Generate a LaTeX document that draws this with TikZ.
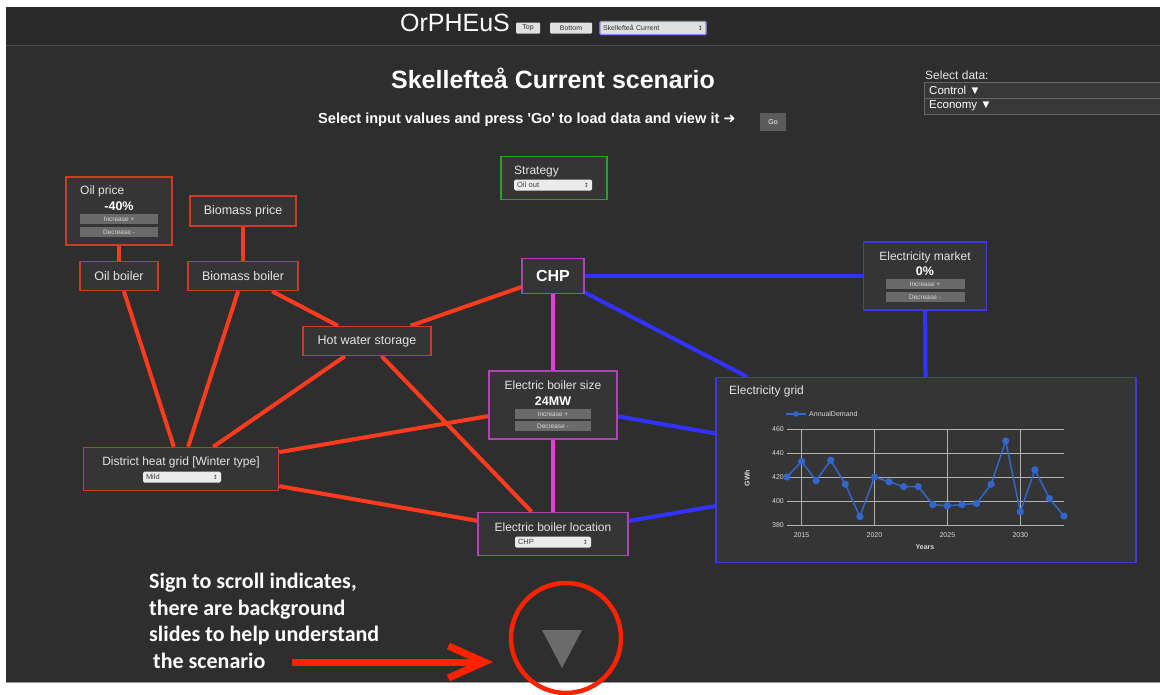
\documentclass[tikz,border=0pt]{standalone}
\usepackage{fontspec}
\setmainfont{Liberation Sans}
\newfontfamily\notefont{Carlito}
\newfontfamily\symbolfont{DejaVu Sans}
\usetikzlibrary{arrows.meta}
\newcommand\pxfont[1]{\fontsize{#1}{#1}\selectfont}
\definecolor{pagebg}{HTML}{2E2E2E}
\definecolor{headbg}{HTML}{2A2A2A}
\definecolor{boxfill}{HTML}{353535}
\definecolor{boxtext}{HTML}{E4E4E4}
\definecolor{heatred}{HTML}{FF3B1E}
\definecolor{heatedge}{HTML}{CF3A25}
\definecolor{chpmag}{HTML}{E53CE5}
\definecolor{chpedge}{HTML}{B044B0}
\definecolor{elblue}{HTML}{3232FF}
\definecolor{eledge}{HTML}{3A3AE0}
\definecolor{stratedge}{HTML}{1FA81F}
\definecolor{btngrey}{HTML}{6A6A6A}
\definecolor{plotblue}{HTML}{3366CC}
\definecolor{gridgrey}{HTML}{B0B0B0}
\definecolor{notered}{HTML}{FF2200}
\definecolor{signgrey}{HTML}{6B6B6B}
\tikzset{heatbox/.style={rectangle,draw=heatedge,fill=boxfill,line width=1.5pt,inner sep=0pt,text=boxtext,font=\pxfont{12.5}},
         chpbox/.style={heatbox,draw=chpedge},
         elbox/.style={heatbox,draw=eledge},
         stratbox/.style={heatbox,draw=stratedge},
         heatline/.style={heatred,line width=4pt},
         chpline/.style={chpmag,line width=4pt},
         elline/.style={elblue,line width=4pt},
         boxlabel/.style={text=boxtext,inner sep=0pt,font=\pxfont{12}},
         boxvalue/.style={text=white,inner sep=0pt,font=\pxfont{12.5}\bfseries},
         pushbtn/.style={rectangle,fill=btngrey,text=white!85!black,inner sep=0pt,minimum width=#1,minimum height=10pt,font=\pxfont{6.5}},
         pushbtn/.default=78pt,
         dropdown/.style={rectangle,rounded corners=1.5pt,fill=white!92!black,text=black!75,inner sep=0pt,inner xsep=3pt,text width=#1,minimum height=11pt,align=left,font=\pxfont{7.5}},
         dropdown/.default=72pt,
         headbtn/.style={rectangle,rounded corners=1pt,fill=white!88!black,text=black!80,inner sep=0pt,minimum height=11pt,font=\pxfont{7}},
         chartgrid/.style={gridgrey,line width=0.9pt},
         ticklabel/.style={text=white!85!black,inner sep=0pt,font=\pxfont{7}},
         notetext/.style={text=white,inner sep=0pt,align=left,font={\notefont\bfseries\fontsize{22}{26.5}\selectfont}}}
\pgfdeclarelayer{background}
\pgfsetlayers{background,main}

\begin{document}
\begin{tikzpicture}[x=1pt,y=-1pt]
\useasboundingbox (0,0) rectangle (1160,694);
\begin{pgfonlayer}{background}
\fill[white] (0,0) rectangle (1160,694);
\fill[pagebg] (6,7) rectangle (1160,682);
\fill[headbg] (6,7) rectangle (1160,45);
\draw[black!70,line width=1pt] (6,45) -- (1160,45);
\draw[black!40,line width=1pt] (6,682) -- (1160,682);
\end{pgfonlayer}

% header
\node[text=white,inner sep=0pt,font=\pxfont{25}] (appname) at (455,23) {OrPHEuS};
\node[headbtn,minimum width=24pt] (topbtn) at (528,28) {Top};
\node[headbtn,minimum width=42pt] (bottombtn) at (571,28) {Bottom};
\node[headbtn,draw=blue!45!white,line width=1.2pt,minimum width=106pt,minimum height=13pt,text width=100pt,align=left] (scenariosel) at (653,28) {Skellefteå Current\hfill{\symbolfont\pxfont{6}↕}};

\node[text=white,inner sep=0pt,font=\pxfont{25}\bfseries] (title) at (553,78) {Skellefteå Current scenario};
\node[text=white,inner sep=0pt,font=\pxfont{14.6}\bfseries,anchor=west] (hint) at (318,120) {Select input values and press \textquotesingle Go\textquotesingle{} to load data and view it {\symbolfont\bfseries ➜}};
\node[rectangle,fill=btngrey!110,text=white,inner sep=0pt,minimum width=26pt,minimum height=18pt,font=\pxfont{7}] (gobtn) at (773,122) {Go};

\node[boxlabel,anchor=west] (selectdata) at (925,75) {Select data:};
\draw[black!60,fill=white!22!black] (924,82) rectangle (1160,98);
\draw[black!60,fill=white!22!black] (924,98) rectangle (1160,114);
\node[boxlabel,anchor=west,text=white,font=\pxfont{11.5}] (control) at (929,90) {Control ▼};
\node[boxlabel,anchor=west,text=white,font=\pxfont{11.5}] (economy) at (929,106) {Economy ▼};

% boxes
\node[stratbox,minimum width=106pt,minimum height=43pt] (strategy) at (554,178) {};
\node[boxlabel,anchor=west] (strategytitle) at (514,172) {Strategy};
\node[dropdown] (strategysel) at (553,185) {Oil out\hfill{\symbolfont\pxfont{6}↕}};

\node[heatbox,minimum width=106pt,minimum height=68pt] (oilprice) at (119,211) {};
\node[boxlabel,anchor=west] (oilpricetitle) at (80,191) {Oil price};
\node[boxvalue] (oilpricevalue) at (119,206) {-40\%};
\node[pushbtn] (oilpriceup) at (119,219) {Increase +};
\node[pushbtn] (oilpricedown) at (119,232) {Decrease -};

\node[heatbox,minimum width=106pt,minimum height=30pt] (biomassprice) at (243,211) {Biomass price};
\node[heatbox,minimum width=78pt,minimum height=29pt] (oilboiler) at (119,276) {Oil boiler};
\node[heatbox,minimum width=110pt,minimum height=29pt] (biomassboiler) at (243,276) {Biomass boiler};
\node[heatbox,minimum width=128pt,minimum height=29pt] (hotwater) at (367,341) {Hot water storage};

\node[chpbox,minimum width=62pt,minimum height=35pt,font=\pxfont{16}\bfseries,text=white] (chp) at (553,276) {CHP};

\node[chpbox,minimum width=128pt,minimum height=68pt] (ebsize) at (553,405) {};
\node[boxlabel] (ebsizetitle) at (553,385) {Electric boiler size};
\node[boxvalue] (ebsizevalue) at (553,401) {24MW};
\node[pushbtn=76pt] (ebsizeup) at (553,414) {Increase +};
\node[pushbtn=76pt] (ebsizedown) at (553,426) {Decrease -};

\node[heatbox,minimum width=195pt,minimum height=43pt] (districtheat) at (181,469) {};
\node[boxlabel] (districttitle) at (181,462) {District heat grid [Winter type]};
\node[dropdown] (districtsel) at (182,477) {Mild\hfill{\symbolfont\pxfont{6}↕}};

\node[chpbox,minimum width=150pt,minimum height=43pt] (eblocation) at (553,534) {};
\node[boxlabel] (eblocationtitle) at (553,527) {Electric boiler location};
\node[dropdown=70pt] (eblocationsel) at (553,542) {CHP\hfill{\symbolfont\pxfont{6}↕}};

\node[elbox,minimum width=123pt,minimum height=68pt] (elmarket) at (925,276) {};
\node[boxlabel] (elmarkettitle) at (925,257) {Electricity market};
\node[boxvalue] (elmarketvalue) at (925,271) {0\%};
\node[pushbtn=79pt] (elmarketup) at (925,284) {Increase +};
\node[pushbtn=79pt] (elmarketdown) at (925,297) {Decrease -};

\node[elbox,minimum width=420pt,minimum height=185pt] (elgrid) at (926,470) {};
\node[boxlabel,anchor=west] (elgridtitle) at (729,391) {Electricity grid};

% chart
\draw[plotblue,line width=1.5pt] (786,414) -- (806,414);
\fill[plotblue] (796,414) circle (2.8pt);
\node[ticklabel,anchor=west] (legend) at (809,414) {AnnualDemand};
\begin{scope}[shift={(787,525)},x=14.58pt,y=1.2pt]
\foreach \v in {0,20,40,60,80}
  \draw[chartgrid] (0,\v) -- (19,\v);
\foreach \t in {1,6,11,16}
  \draw[chartgrid] (\t,0) -- (\t,80);
\foreach \v/\l in {0/380,20/400,40/420,60/440,80/460}
  \node[ticklabel,anchor=east] (ytick\l) at (-0.2,\v) {\l};
\foreach \t/\l in {1/2015,6/2020,11/2025,16/2030}
  \node[ticklabel] (xtick\l) at (\t,-8.5) {\l};
\draw[plotblue,line width=1.5pt] plot[mark=*,mark size=2.8pt,mark options={fill=plotblue}] coordinates {(0,40) (1,53) (2,37) (3,54) (4,34) (5,7) (6,40) (7,36) (8,32) (9,32) (10,17) (11,16) (12,17) (13,18) (14,34) (15,70) (16,11) (17,46) (18,22) (19,7.5)};
\end{scope}
\node[ticklabel,rotate=90,font=\pxfont{7}\bfseries] (yaxis) at (747,478) {GWh};
\node[ticklabel,font=\pxfont{7}\bfseries] (xaxis) at (925,547) {Years};

% connectors
\begin{pgfonlayer}{background}
\draw[heatline] (oilprice) -- (oilboiler);
\draw[heatline] (biomassprice) -- (biomassboiler);
\draw[heatline] (oilboiler) -- (districtheat);
\draw[heatline] (biomassboiler) -- (districtheat);
\draw[heatline] (biomassboiler) -- (hotwater);
\draw[heatline] (hotwater) -- (districtheat);
\draw[heatline] (hotwater) -- (chp);
\draw[heatline] (hotwater) -- (eblocation);
\draw[heatline] (districtheat) -- (ebsize);
\draw[heatline] (districtheat) -- (eblocation);
\draw[chpline] (chp) -- (ebsize);
\draw[chpline] (ebsize) -- (eblocation);
\draw[elline] (chp) -- (elmarket);
\draw[elline] (chp) -- (elgrid);
\draw[elline] (elmarket) -- (elgrid);
\draw[elline] (ebsize) -- (elgrid);
\draw[elline] (eblocation) -- (elgrid);
\end{pgfonlayer}

% scroll note
\node[notetext,anchor=north west] (scrollnote) at (149,573) {Sign to scroll indicates,\\there are background\\slides to help understand\\\hspace{4pt}the scenario};
\node[circle,draw=notered,line width=4.5pt,minimum size=110pt,inner sep=0pt] (scrollsign) at (566,638) {};
\fill[signgrey] ([shift={(-24,-8)}]scrollsign.center) -- ([shift={(16,-8)}]scrollsign.center) -- ([shift={(-4,30)}]scrollsign.center) -- cycle;
\coordinate (arrowtail) at (292,662);
\coordinate (arrowtip) at (493,662);
\draw[notered,line width=7pt,-{Straight Barb[length=36pt,width=32pt,line width=7pt]}] (arrowtail) -- (arrowtip);
\end{tikzpicture}
\end{document}
